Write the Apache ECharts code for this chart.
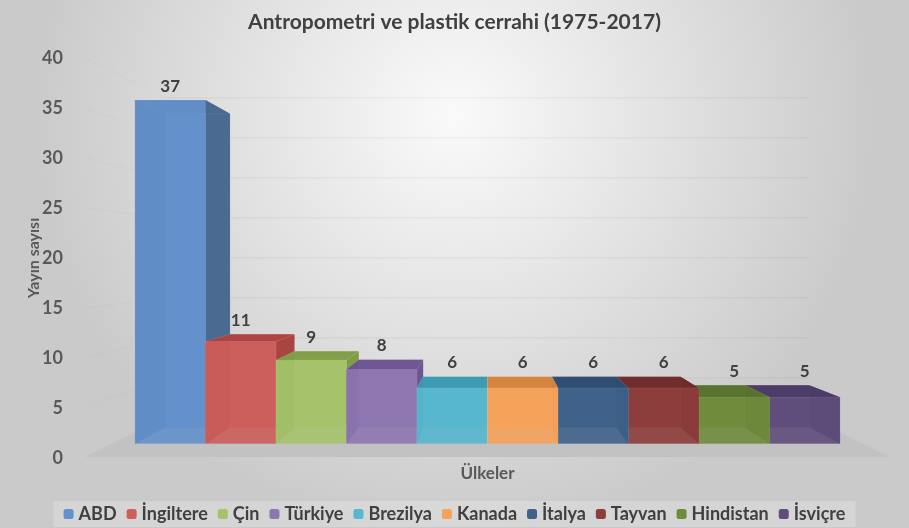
<!DOCTYPE html>
<html>
<head>
<meta charset="utf-8">
<script src="https://cdn.jsdelivr.net/npm/echarts@6/dist/echarts.min.js"></script>
<style>
  html, body { margin: 0; padding: 0; }
  #chart { width: 909px; height: 528px; }
</style>
</head>
<body>
<div id="chart"></div>
<script>
var countries = ['ABD', 'İngiltere', 'Çin', 'Türkiye', 'Brezilya', 'Kanada', 'İtalya', 'Tayvan', 'Hindistan', 'İsviçre'];
var counts = [37, 11, 9, 8, 6, 6, 6, 6, 5, 5];
var yTicks = [0, 5, 10, 15, 20, 25, 30, 35, 40];

var frontColors = ['#6391CB', '#CC5E5C', '#A4C36A', '#8E77B0', '#57B7CE', '#F5A25A', '#3F628A', '#8D3D3C', '#6F8C3D', '#5F4E7B'];
var sideColors  = ['#4A6A90', '#A94442', '#7F9C46', '#6C5590', '#3C98AF', '#D3823E', '#2E4C70', '#6E2B2B', '#57722D', '#4B3C66'];

var FONT = 'Lato, "Open Sans", sans-serif';
var FRONT = 0.929, BACK = 0.848, WALL = 0.8;

function proj(v, x, y, f) {
    return [v[0] + (x - v[0]) * f, v[1] + (y - v[1]) * f];
}

function centerOf(params) {
    var cs = params.coordSys;
    return [cs.x + cs.width / 2, cs.y + cs.height / 2];
}

function renderBar(params, api) {
    var v = centerOf(params);
    var idx = api.value(0), val = api.value(1);
    var top = api.coord([idx, val]);
    var base = api.coord([idx, 0]);
    var bw = api.size([1, 0])[0];
    var x0 = top[0] - bw / 2, x1 = top[0] + bw / 2;
    var fbl = proj(v, x0, base[1], FRONT), fbr = proj(v, x1, base[1], FRONT);
    var ftl = proj(v, x0, top[1], FRONT), ftr = proj(v, x1, top[1], FRONT);
    var bbl = proj(v, x0, base[1], BACK), bbr = proj(v, x1, base[1], BACK);
    var btl = proj(v, x0, top[1], BACK), btr = proj(v, x1, top[1], BACK);
    var i = params.seriesIndex - 2;
    var z = (1000 - Math.round(Math.abs(top[0] - v[0]))) * 10;
    var edge = 'rgba(255,255,255,0.12)';
    function face(pts, color, op, zz) {
        return {
            type: 'polygon', z2: z + zz,
            shape: { points: pts },
            style: { fill: color, opacity: op, stroke: edge, lineWidth: 0.6 }
        };
    }
    var labelY = Math.min(ftl[1], btl[1]) - 14;
    return {
        type: 'group',
        children: [
            face([bbl, bbr, btr, btl], frontColors[i], 1, 1),
            face([fbl, bbl, btl, ftl], sideColors[i], 1, 2),
            face([fbr, bbr, btr, ftr], sideColors[i], 1, 2),
            face([ftl, ftr, btr, btl], sideColors[i], 0.92, 3),
            face([fbl, fbr, ftr, ftl], frontColors[i], 0.9, 4),
            {
                type: 'text', z2: 90000,
                style: {
                    text: String(val), x: top[0] + (v[0] - top[0]) * (1 - FRONT), y: labelY,
                    align: 'center', verticalAlign: 'middle',
                    fill: '#404040', fontSize: 17, fontWeight: 'bold', fontFamily: FONT
                }
            }
        ]
    };
}

function renderFloor(params, api) {
    var v = centerOf(params);
    var cs = params.coordSys;
    var y0 = api.coord([0, 0])[1] - 1;
    var xl = cs.x - 23, xr = cs.x + cs.width + 23;
    return {
        type: 'polygon', z2: 0,
        shape: { points: [[xl, y0], [xr, y0], proj(v, xr, y0, WALL), proj(v, xl, y0, WALL)] },
        style: { fill: '#C2C2C2' }
    };
}

function renderGrid(params, api) {
    var v = centerOf(params);
    var cs = params.coordSys;
    var y = api.coord([0, api.value(1)])[1];
    var xl = cs.x - 23, xr = cs.x + cs.width + 23;
    var a = proj(v, xl, y, WALL), b = proj(v, xr, y, WALL);
    return {
        type: 'group',
        children: [
            { type: 'line', z2: 1, shape: { x1: a[0], y1: a[1], x2: b[0], y2: b[1] },
              style: { stroke: 'rgba(0,0,0,0.06)', lineWidth: 1 } },
            { type: 'line', z2: 1, shape: { x1: xl, y1: y, x2: a[0], y2: a[1] },
              style: { stroke: 'rgba(0,0,0,0.02)', lineWidth: 1 } }
        ]
    };
}

var series = [
    { type: 'custom', name: 'floor', renderItem: renderFloor, data: [[0, 0]], clip: false, silent: true },
    { type: 'custom', name: 'grid', renderItem: renderGrid, data: yTicks.slice(1).map(function (t) { return [0, t]; }), clip: false, silent: true }
];
countries.forEach(function (name, i) {
    series.push({
        type: 'custom',
        name: name,
        renderItem: renderBar,
        itemStyle: { color: frontColors[i] },
        data: [[i, counts[i]]],
        clip: false
    });
});

var chart = echarts.init(document.getElementById('chart'));
chart.setOption({
    animation: false,
    backgroundColor: {
        type: 'radial', x: 0.5, y: 0.22, r: 0.8,
        colorStops: [{ offset: 0, color: '#FAFAFA' }, { offset: 1, color: '#CACACA' }]
    },
    title: {
        text: 'Antropometri ve plastik cerrahi (1975-2017)',
        left: 'center', top: 7,
        textStyle: { fontFamily: FONT, fontSize: 21, fontWeight: 'bold', color: '#404040' }
    },
    legend: {
        data: countries,
        left: 'center', top: 501,
        itemWidth: 10, itemHeight: 10, itemGap: 10,
        padding: [4, 10],
        backgroundColor: 'rgba(255,255,255,0.22)',
        textStyle: { fontFamily: FONT, fontSize: 18, fontWeight: 'bold', color: '#404040' }
    },
    grid: { left: 108, right: 42, top: 58, bottom: 70 },
    xAxis: {
        type: 'category',
        data: countries,
        axisLine: { show: false }, axisTick: { show: false }, axisLabel: { show: false },
        name: 'Ülkeler', nameLocation: 'middle', nameGap: 7, nameMoveOverlap: false,
        nameTextStyle: { fontFamily: FONT, fontSize: 17, fontWeight: 'bold', color: '#595959' }
    },
    yAxis: {
        type: 'value', min: 0, max: 40, interval: 5,
        axisLine: { show: false }, axisTick: { show: false }, splitLine: { show: false },
        axisLabel: { fontFamily: FONT, fontSize: 18, fontWeight: 'bold', color: '#595959', margin: 45 },
        name: 'Yayın sayısı', nameLocation: 'middle', nameGap: 66, nameRotate: 90, nameMoveOverlap: false,
        nameTextStyle: { fontFamily: FONT, fontSize: 16, fontWeight: 'bold', color: '#595959' }
    },
    series: series
});
</script>
</body>
</html>
